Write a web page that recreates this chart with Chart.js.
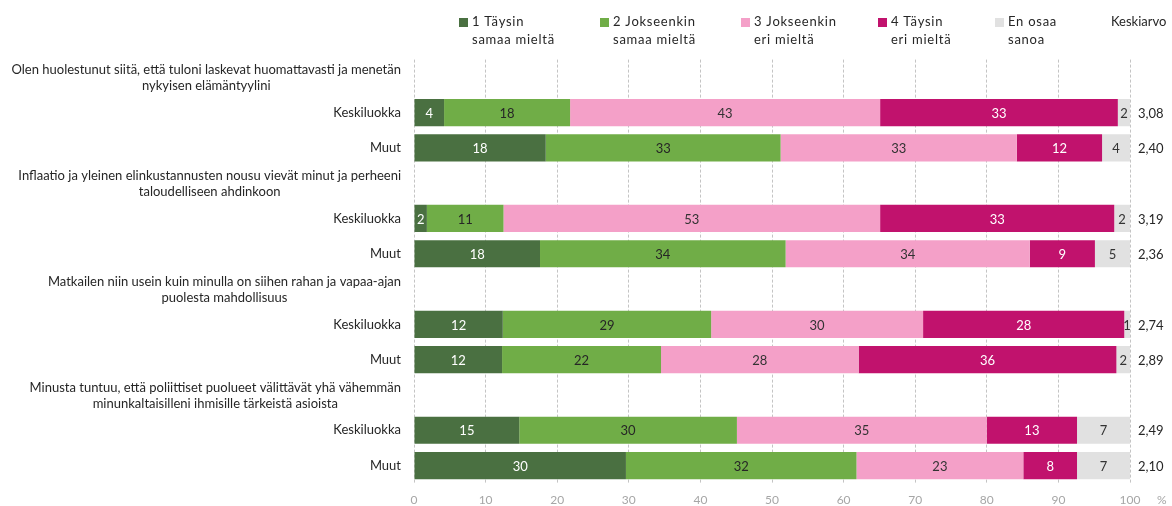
<!DOCTYPE html>
<html>
<head>
<meta charset="utf-8">
<script src="https://cdn.jsdelivr.net/npm/chart.js@4.4.1/dist/chart.umd.min.js"></script>
<style>
  html, body { margin: 0; padding: 0; background: #ffffff; }
  #wrap { width: 1172px; height: 506px; position: relative; }
</style>
</head>
<body>
<div id="wrap"><canvas id="c" width="1172" height="506"></canvas></div>
<script>
// ---------- DATA ----------
const questions = [
  ["Olen huolestunut siitä, että tuloni laskevat huomattavasti ja menetän", "nykyisen elämäntyylini"],
  ["Inflaatio ja yleinen elinkustannusten nousu vievät minut ja perheeni", "taloudelliseen ahdinkoon"],
  ["Matkailen niin usein kuin minulla on siihen rahan ja vapaa-ajan", "puolesta mahdollisuus"],
  ["Minusta tuntuu, että poliittiset puolueet välittävät yhä vähemmän", "minunkaltaisilleni ihmisille tärkeistä asioista"]
];
const groups = ["Keskiluokka", "Muut"];
const seriesLabels = [
  ["1 Täysin", "samaa mieltä"],
  ["2 Jokseenkin", "samaa mieltä"],
  ["3 Jokseenkin", "eri mieltä"],
  ["4 Täysin", "eri mieltä"],
  ["En osaa", "sanoa"]
];
// rows: header, Keskiluokka, Muut (x4)
const taysinSamaa     = [null, 4.2, 18.4, null, 1.8, 17.6, null, 12.4, 12.3, null, 14.7, 29.6];
const jokseenkinSamaa = [null, 17.6, 32.8, null, 10.7, 34.3, null, 29.1, 22.2, null, 30.4, 32.2];
const jokseenkinEri   = [null, 43.3, 33.0, null, 52.6, 34.1, null, 29.6, 27.6, null, 34.9, 23.3];
const taysinEri       = [null, 33.2, 11.9, null, 32.7, 9.1, null, 28.1, 36.0, null, 12.6, 7.5];
const enOsaa          = [null, 1.7, 3.9, null, 2.2, 4.9, null, 0.8, 1.9, null, 7.4, 7.4];
const keskiarvo       = [null, 3.08, 2.40, null, 3.19, 2.36, null, 2.74, 2.89, null, 2.49, 2.10];
const xTickValues = [0, 10, 20, 30, 40, 50, 60, 70, 80, 90, 100];

// ---------- BUILD ----------
const FONT = "Lato, 'Open Sans', sans-serif";
const categories = [];
const isHeader = [];
questions.forEach(q => {
  categories.push(q.join(" ")); isHeader.push(true);
  groups.forEach(g => { categories.push(g); isHeader.push(false); });
});

const colors = ["#4a7041", "#70ad47", "#f4a0c8", "#c1126d", "#e1e1e1"];
const labelColors = ["#ffffff", "#262626", "#333333", "#ffffff", "#333333"];
const seriesData = [taysinSamaa, jokseenkinSamaa, jokseenkinEri, taysinEri, enOsaa];

const datasets = seriesData.map((d, i) => ({
  label: seriesLabels[i].join(" "),
  data: d,
  backgroundColor: colors[i],
  borderWidth: 0,
  barPercentage: 0.77,
  categoryPercentage: 1.0
}));

const segmentLabels = {
  id: "segmentLabels",
  afterDatasetsDraw(chart) {
    const ctx = chart.ctx;
    ctx.save();
    ctx.font = "13px " + FONT;
    ctx.textAlign = "center";
    ctx.textBaseline = "middle";
    chart.data.datasets.forEach((ds, di) => {
      const meta = chart.getDatasetMeta(di);
      meta.data.forEach((el, i) => {
        const v = ds.data[i];
        if (v === null || v === undefined) return;
        ctx.fillStyle = labelColors[di];
        ctx.fillText(String(Math.round(v)), (el.x + el.base) / 2, el.y + 1);
      });
    });
    ctx.restore();
  }
};

const extras = {
  id: "extras",
  afterDraw(chart) {
    const ctx = chart.ctx;
    const ys = chart.scales.y;
    const area = chart.chartArea;
    ctx.save();
    // question headers
    ctx.font = "13px " + FONT;
    ctx.fillStyle = "#262626";
    ctx.textBaseline = "middle";
    ctx.textAlign = "center";
    let qi = 0;
    categories.forEach((c, i) => {
      if (!isHeader[i]) return;
      const lines = questions[qi++];
      const w = Math.max(...lines.map(l => ctx.measureText(l).width));
      const cx = area.left - 13 - w / 2;
      const y = ys.getPixelForValue(i);
      ctx.fillText(lines[0], cx, y - 7.5);
      ctx.fillText(lines[1], cx, y + 8.5);
    });
    // means
    ctx.textAlign = "left";
    keskiarvo.forEach((m, i) => {
      if (m === null) return;
      ctx.fillText(m.toFixed(2).replace(".", ","), area.right + 8, ys.getPixelForValue(i) + 1);
    });
    ctx.fillText("Keskiarvo", 1111, 22);
    // legend
    const legendX = [459, 600, 741, 878, 995];
    ctx.font = "13px " + FONT;
    if ("letterSpacing" in ctx) ctx.letterSpacing = "0.75px";
    seriesLabels.forEach((lab, i) => {
      const x = legendX[i];
      ctx.fillStyle = colors[i];
      ctx.fillRect(x, 18, 9, 9);
      ctx.fillStyle = "#262626";
      ctx.fillText(lab[0], x + 13, 22);
      ctx.fillText(lab[1], x + 13, 40);
    });
    if ("letterSpacing" in ctx) ctx.letterSpacing = "0px";
    // percent sign
    ctx.font = "12px " + FONT;
    ctx.fillStyle = "#a6a6a6";
    ctx.fillText("%", 1157, 500);
    ctx.restore();
  }
};

new Chart(document.getElementById("c"), {
  type: "bar",
  data: { labels: categories, datasets },
  options: {
    indexAxis: "y",
    responsive: false,
    animation: false,
    devicePixelRatio: 1,
    layout: { padding: { top: 59.6, right: 42, left: 0, bottom: 0 } },
    plugins: { legend: { display: false }, tooltip: { enabled: false } },
    scales: {
      x: {
        stacked: true,
        min: 0, max: 100,
        afterBuildTicks: s => { s.ticks = xTickValues.map(v => ({ value: v })); },
        ticks: { color: "#a6a6a6", font: { family: FONT, size: 12 }, padding: 10, maxRotation: 0 },
        grid: { color: "#c4c4c4", lineWidth: 1, drawTicks: false },
        border: { display: false, dash: [3, 2] },
        afterFit: s => { s.height = 22.8; }
      },
      y: {
        stacked: true,
        ticks: {
          autoSkip: false,
          color: "#262626",
          font: { family: FONT, size: 13 },
          padding: 13,
          callback: (v, i) => isHeader[i] ? "" : categories[i]
        },
        grid: { display: false, drawTicks: false },
        border: { display: false },
        afterFit: s => { s.width = 414; }
      }
    }
  },
  plugins: [segmentLabels, extras]
});
</script>
</body>
</html>
